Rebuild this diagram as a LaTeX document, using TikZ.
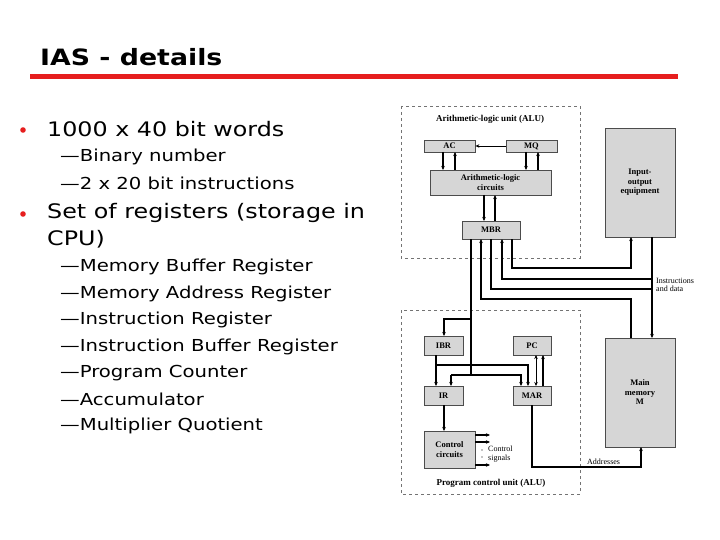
\documentclass[tikz,border=0pt]{standalone}
\usepackage{fontspec}
\setmainfont{DejaVu Sans}
\newfontfamily\wide[FakeStretch=1.19]{DejaVu Sans}
\newfontfamily\dserif{Liberation Serif}
\usetikzlibrary{arrows.meta}
\definecolor{slred}{RGB}{230,30,30}
\definecolor{boxgray}{RGB}{214,214,214}
\begin{document}
\begin{tikzpicture}[x=1pt,y=-1pt,
  bx/.style={draw=black!70,fill=boxgray,line width=0.8pt,font=\dserif\bfseries\fontsize{8.5}{9.5}\selectfont,align=center,inner sep=0pt},
  dsh/.style={draw=black!55,dashed,line width=0.7pt},
  ln/.style={line width=1.2pt},
  ar/.style={line width=1.2pt,-{Stealth[length=4pt,width=3.5pt]}},
  lab/.style={font=\dserif\bfseries\fontsize{9}{10}\selectfont,align=left,inner sep=0pt},
  sl/.style={font=\dserif\fontsize{8}{8.5}\selectfont,align=left,inner sep=0pt},
  l1/.style={anchor=west,font=\wide\fontsize{20}{27}\selectfont,inner sep=0pt,align=left},
  l2/.style={anchor=west,font=\wide\fontsize{16.5}{18}\selectfont,inner sep=0pt}]
\useasboundingbox (0,0) rectangle (720,540);
% title
\node[anchor=west,inner sep=0pt,font=\wide\bfseries\fontsize{22.5}{26}\selectfont] (title) at (40,57) {IAS - details};
\draw[slred,line width=5pt] (30,77) -- (678,77);
% bullets
\fill[slred] (23,130) circle (2.8pt);
\node[l1] (t1) at (47,129) {1000 x 40 bit words};
\node[l2] (d1) at (60,157) {\textemdash Binary number};
\node[l2] (d2) at (60,183) {\textemdash 2 x 20 bit instructions};
\fill[slred] (23,214) circle (2.8pt);
\node[l1,anchor=north west] (t2) at (47,203) {Set of registers (storage in\\CPU)};
\node[l2] (d3) at (60,267) {\textemdash Memory Buffer Register};
\node[l2] (d4) at (60,294) {\textemdash Memory Address Register};
\node[l2] (d5) at (60,320) {\textemdash Instruction Register};
\node[l2] (d6) at (60,347) {\textemdash Instruction Buffer Register};
\node[l2] (d7) at (60,373) {\textemdash Program Counter};
\node[l2] (d8) at (60,399) {\textemdash Accumulator};
\node[l2] (d9) at (60,426) {\textemdash Multiplier Quotient};
% dashed frames
\draw[dsh] (401,106) rectangle (580,258);
\draw[dsh] (401,310) rectangle (580,494);
\node[lab] (alut) at (490,119) {Arithmetic-logic unit (ALU)};
\node[lab] (pcut) at (491,483) {Program control unit (ALU)};
% boxes
\node[bx,minimum width=51pt,minimum height=12pt] (ac) at (449.5,146) {AC};
\node[bx,minimum width=51pt,minimum height=12pt] (mq) at (531.5,146) {MQ};
\node[bx,minimum width=121pt,minimum height=25pt] (alc) at (490.5,182.5) {Arithmetic-logic\\circuits};
\node[bx,minimum width=58pt,minimum height=18pt] (mbr) at (491,230) {MBR};
\node[bx,minimum width=70pt,minimum height=109pt] (io) at (640,182.5) {Input-\\output\\equipment};
\node[bx,minimum width=70pt,minimum height=109pt] (mem) at (640,392.5) {Main\\memory\\M};
\node[bx,minimum width=39pt,minimum height=19pt] (ibr) at (443.5,345.5) {IBR};
\node[bx,minimum width=38pt,minimum height=19pt] (pc) at (532,345.5) {PC};
\node[bx,minimum width=39pt,minimum height=19pt] (ir) at (443.5,395.5) {IR};
\node[bx,minimum width=38pt,minimum height=19pt] (mar) at (532,395.5) {MAR};
\node[bx,minimum width=51pt,minimum height=37pt] (cc) at (449.5,449.5) {Control\\circuits};
% ALU connections
\draw[ar,line width=0.8pt] (mq.west) -- (ac.east);
\draw[ar] (443,152) -- (443,170);
\draw[ar] (455,170) -- (455,152);
\draw[ar] (526,152) -- (526,170);
\draw[ar] (538,170) -- (538,152);
\draw[ar] (484,195) -- (484,221);
\draw[ar] (495,221) -- (495,195);
% MBR buses
\draw[ar] (512,239) -- (512,268) -- (631,268) -- (631,237);
\draw[ar] (652,237) -- (652,338);
\draw[ar] (652,279) -- (502,279) -- (502,239);
\draw[ln] (491,239) -- (491,289) -- (652,289);
\draw[ar] (631,338) -- (631,299) -- (481,299) -- (481,239);
\draw[ln] (471,239) -- (471,375);
\draw[ar] (471,319) -- (444,319) -- (444,336);
\draw[ar] (451,375) -- (451,386);
\draw[ar] (451,375) -- (521,375) -- (521,386);
\node[sl,anchor=west] (iad) at (656,285) {Instructions\\and data};
% control unit
\draw[ar] (436,355) -- (436,386);
\draw[ar] (436,365) -- (528,365) -- (528,386);
\draw[line width=0.8pt,{Stealth[length=4pt,width=3.5pt]}-{Stealth[length=4pt,width=3.5pt]}] (536,355) -- (536,386);
\draw[ar] (543,386) -- (543,355);
\draw[ar] (444,405) -- (444,431);
\draw[ar] (475,435) -- (490,435);
\draw[ar] (475,442) -- (490,442);
\draw[ar] (475,465) -- (490,465);
\fill (482,450) circle (0.6pt);
\fill (482,457) circle (0.6pt);
\node[sl,anchor=west] (cs) at (488,454) {Control\\signals};
\draw[ar] (532,405) -- (532,467) -- (641,467) -- (641,447);
\node[sl,anchor=west] (addr) at (587,462) {Addresses};
\end{tikzpicture}
\end{document}
